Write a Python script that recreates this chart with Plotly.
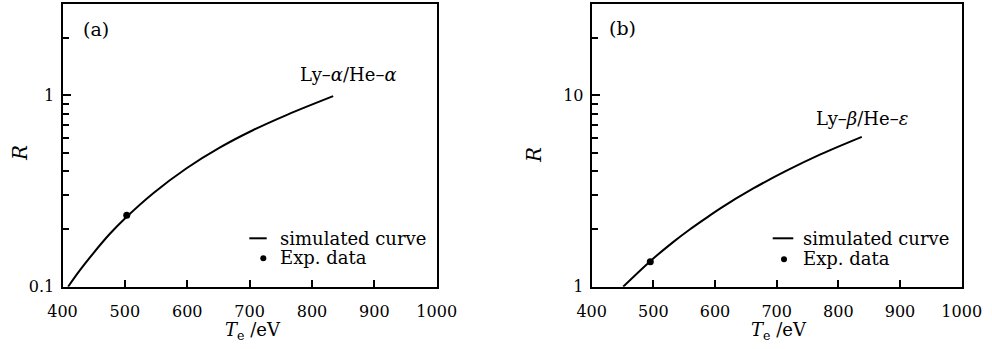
import math
import plotly.graph_objects as go

# ---- data ----
te_a = [409, 428, 449, 476, 503, 546, 599, 652, 706, 760, 834]
r_a = [0.100, 0.122, 0.149, 0.189, 0.232, 0.309, 0.416, 0.533, 0.659, 0.791, 0.99]
exp_te_a = [503]
exp_r_a = [0.236]

te_b = [451, 495, 532, 559, 586, 608, 662, 716, 770, 838]
r_b = [1.0, 1.36, 1.71, 1.99, 2.29, 2.56, 3.26, 4.04, 4.90, 6.07]
exp_te_b = [495]
exp_r_b = [1.35]

x_ticks = [400, 500, 600, 700, 800, 900, 1000]
ya_major = [0.1, 1]
ya_minor = [0.2, 0.3, 0.4, 0.5, 0.6, 0.7, 0.8, 0.9, 2, 3]
yb_major = [1, 10]
yb_minor = [2, 3, 4, 5, 6, 7, 8, 9, 20, 30]

label_a = "Ly–<i>α</i>/He–<i>α</i>"
label_b = "Ly–<i>β</i>/He–<i>ε</i>"

FONT = "DejaVu Serif"
W, H = 992, 349

def px(x):
    return x / W

def py(y):
    return 1 - y / H

fig = go.Figure()
fig.add_trace(go.Scatter(x=te_a, y=r_a, mode="lines", line=dict(color="black", width=2, shape="spline", smoothing=1.0),
                         xaxis="x", yaxis="y", showlegend=False))
fig.add_trace(go.Scatter(x=exp_te_a, y=exp_r_a, mode="markers", marker=dict(color="black", size=7),
                         xaxis="x", yaxis="y", showlegend=False))
fig.add_trace(go.Scatter(x=te_b, y=r_b, mode="lines", line=dict(color="black", width=2, shape="spline", smoothing=1.0),
                         xaxis="x2", yaxis="y2", showlegend=False))
fig.add_trace(go.Scatter(x=exp_te_b, y=exp_r_b, mode="markers", marker=dict(color="black", size=7),
                         xaxis="x2", yaxis="y2", showlegend=False))

ydom = [py(286.7), py(4)]

def xax(dom, anchor):
    return dict(domain=dom, anchor=anchor, range=[400, 1000], tickvals=x_ticks,
                ticks="inside", ticklen=7, tickwidth=1.5, tickcolor="black",
                showline=True, linecolor="black", linewidth=2, mirror=True,
                showgrid=False, zeroline=False, ticklabelstandoff=9, automargin=False,
                tickfont=dict(family=FONT, size=16, color="black"))

def yax(dom, anchor, rng, major, minor):
    return dict(domain=dom, anchor=anchor, type="log", range=rng, tickvals=major,
                ticktext=[str(v) for v in major],
                ticks="inside", ticklen=8, tickwidth=1.5, tickcolor="black",
                minor=dict(tickvals=minor, ticks="inside", ticklen=6, tickwidth=1.5, tickcolor="black"),
                showline=True, linecolor="black", linewidth=2, mirror=True,
                showgrid=False, zeroline=False, ticklabelstandoff=3, automargin=False,
                tickfont=dict(family=FONT, size=16, color="black"))

fig.update_layout(
    width=W, height=H,
    margin=dict(l=0, r=0, t=0, b=0, autoexpand=False),
    paper_bgcolor="white", plot_bgcolor="white",
    xaxis=xax([px(62.5), px(436.7)], "y"),
    yaxis=yax(ydom, "x", [-1, math.log10(3)], ya_major, ya_minor),
    xaxis2=xax([px(591.7), px(961.7)], "y2"),
    yaxis2=yax(ydom, "x2", [0, math.log10(30)], yb_major, yb_minor),
)

ann = []
def text(x, y, s, size=18, xanchor="center", angle=0):
    ann.append(dict(x=px(x), y=py(y), xref="paper", yref="paper", text=s, showarrow=False,
                    xanchor=xanchor, yanchor="middle", textangle=angle,
                    font=dict(family=FONT, size=size, color="black")))

# panel labels
text(96, 29, "(a)", size=19)
text(622, 28, "(b)", size=19)
text(348, 74, label_a)
text(862, 118, label_b)
# axis titles
text(253, 331, "<i>T</i><sub>e</sub> /eV", size=18)
text(779, 331, "<i>T</i><sub>e</sub> /eV", size=18)
text(20, 153, "<i>R</i>", size=20, angle=-90)
text(534, 155, "<i>R</i>", size=20, angle=-90)
# legends
text(278, 238, "simulated curve", xanchor="left")
text(278, 257, "Exp. data", xanchor="left")
text(801, 238, "simulated curve", xanchor="left")
text(801, 258, "Exp. data", xanchor="left")
fig.update_layout(annotations=ann)

shapes = []
for (x0, x1, y, dx, dy) in [(249.3, 266.7, 238.3, 263.3, 258.3), (772.7, 793.3, 238.3, 784, 259.3)]:
    shapes.append(dict(type="line", xref="paper", yref="paper", x0=px(x0), x1=px(x1), y0=py(y), y1=py(y),
                       line=dict(color="black", width=2)))
    r = 3
    shapes.append(dict(type="circle", xref="paper", yref="paper", x0=px(dx - r), x1=px(dx + r),
                       y0=py(dy + r), y1=py(dy - r), fillcolor="black", line=dict(color="black", width=0)))
fig.update_layout(shapes=shapes)

fig.write_html("out.html", config={"displayModeBar": False},
               post_script="document.body.style.margin='0';")
